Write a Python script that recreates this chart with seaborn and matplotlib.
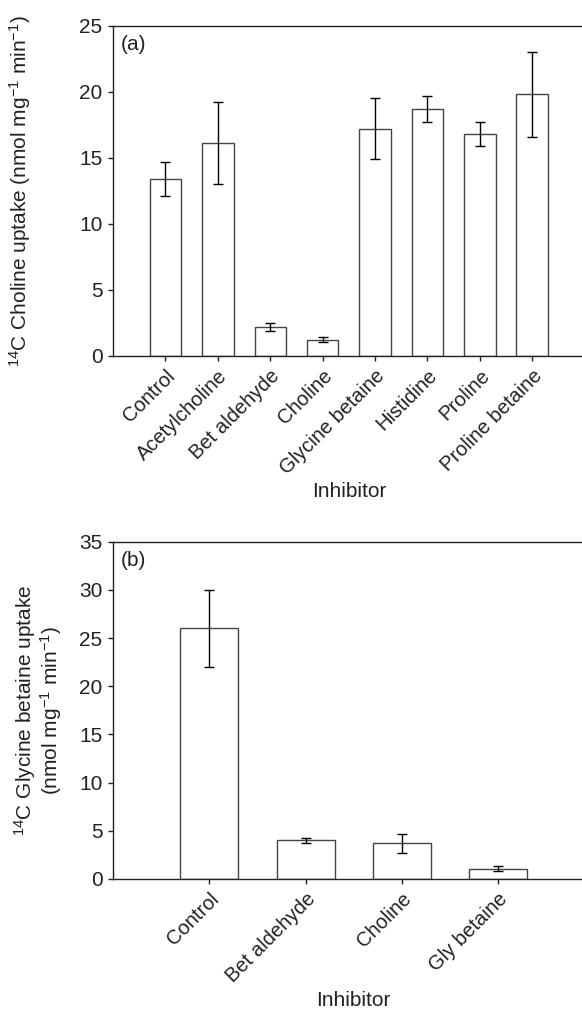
import numpy as np
import pandas as pd
import matplotlib
matplotlib.use("Agg")
import matplotlib.pyplot as plt
import matplotlib.transforms as mtransforms
import seaborn as sns

# (a) 14C choline uptake
inhibitors_a = ["Control", "Acetylcholine", "Bet aldehyde", "Choline",
                "Glycine betaine", "Histidine", "Proline", "Proline betaine"]
uptake_a = [13.4, 16.1, 2.2, 1.2, 17.2, 18.7, 16.8, 19.8]
err_a = [1.3, 3.1, 0.3, 0.2, 2.3, 1.0, 0.9, 3.2]

# (b) 14C glycine betaine uptake
inhibitors_b = ["Control", "Bet aldehyde", "Choline", "Gly betaine"]
uptake_b = [26.0, 4.0, 3.7, 1.05]
err_b = [4.0, 0.3, 1.0, 0.25]

sns.set_theme(style="ticks")
plt.rcParams["font.family"] = ["Liberation Sans", "DejaVu Sans"]
plt.rcParams["mathtext.default"] = "regular"

FS = 15


def panel(ax, names, vals, errs, ymax, tag, dx, dy):
    df = pd.DataFrame({"Inhibitor": names, "uptake": vals})
    sns.barplot(data=df, x="Inhibitor", y="uptake", ax=ax, color="white",
                saturation=1, edgecolor="#444444", linewidth=1.0, width=0.6,
                errorbar=None)
    ax.errorbar(np.arange(len(names)), vals, yerr=errs, fmt="none",
                ecolor="black", elinewidth=1.0, capsize=3.6, capthick=1.0)
    ax.set_xlim(-1, len(names))
    ax.set_ylim(0, ymax)
    ax.set_yticks(np.arange(0, ymax + 1, 5))
    ax.set_xticks(range(len(names)))
    ax.set_xticklabels(names, rotation=45, ha="right", va="top",
                       rotation_mode="anchor")
    off = mtransforms.ScaledTranslation(dx / 100, dy / 100, ax.figure.dpi_scale_trans)
    for lab in ax.get_xticklabels():
        lab.set_transform(lab.get_transform() + off)
    ax.tick_params(direction="out", length=3.5, width=1.0, labelsize=FS,
                   pad=4, colors="#222222")
    ax.tick_params(axis="x", labelsize=14.5)
    for sp in ax.spines.values():
        sp.set_visible(True)
        sp.set_linewidth(1.0)
        sp.set_color("#222222")
    ax.text(0.017, 0.972, tag, transform=ax.transAxes, ha="left", va="top",
            fontsize=FS, color="#222222")
    ax.set_xlabel("Inhibitor", fontsize=FS, color="#222222")


fig = plt.figure(figsize=(5.82, 10.09), dpi=100)
ax1 = fig.add_axes([0.1942, 0.6475, 0.8103, 0.327])
ax2 = fig.add_axes([0.1942, 0.1289, 0.8273, 0.3342])

panel(ax1, inhibitors_a, uptake_a, err_a, 25, "(a)", 4, 0)
ax1.set_ylabel("$^{14}$C Choline uptake (nmol mg$^{-1}$ min$^{-1}$)",
               fontsize=FS, color="#222222")
ax1.yaxis.set_label_coords(-0.170, 0.5)
ax1.xaxis.set_label_coords(0.5, -0.383)

panel(ax2, inhibitors_b, uptake_b, err_b, 35, "(b)", 5, 0)
ax2.set_ylabel("$^{14}$C Glycine betaine uptake\n(nmol mg$^{-1}$ min$^{-1}$)",
               fontsize=FS, color="#222222", linespacing=1.0)
ax2.yaxis.set_label_coords(-0.101, 0.5)
ax2.xaxis.set_label_coords(0.5, -0.332)

fig.savefig("out.png", dpi=100)
